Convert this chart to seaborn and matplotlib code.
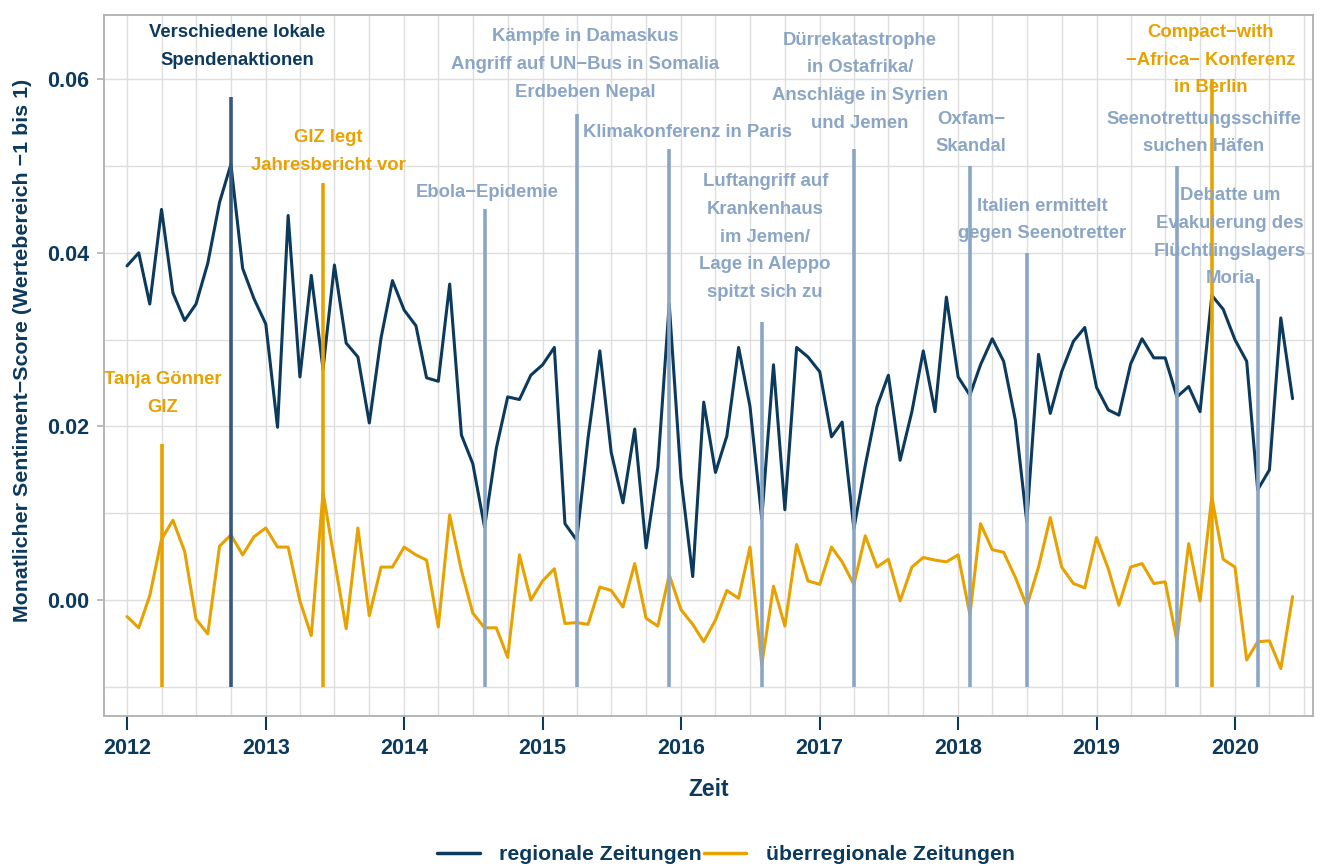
import numpy as np
import pandas as pd
import matplotlib
matplotlib.use("Agg")
import matplotlib.pyplot as plt
import matplotlib.dates as mdates
from matplotlib.ticker import MultipleLocator, FormatStrFormatter
from matplotlib.lines import Line2D
import seaborn as sns

# ---------------- data ----------------
start_month = "2012-01-01"
regional = [0.0385, 0.0400, 0.0341, 0.0450, 0.0354, 0.0322, 0.0341, 0.0388, 0.0458, 0.0502, 0.0382, 0.0347,
            0.0318, 0.0199, 0.0443, 0.0257, 0.0374, 0.0266, 0.0386, 0.0296, 0.0280, 0.0204, 0.0302, 0.0368,
            0.0334, 0.0316, 0.0256, 0.0252, 0.0364, 0.0190, 0.0157, 0.0084, 0.0175, 0.0234, 0.0231, 0.0259,
            0.0271, 0.0291, 0.0088, 0.0069, 0.0187, 0.0287, 0.0170, 0.0112, 0.0197, 0.0060, 0.0153, 0.0341,
            0.0141, 0.0027, 0.0228, 0.0147, 0.0189, 0.0291, 0.0223, 0.0094, 0.0271, 0.0104, 0.0291, 0.0280,
            0.0263, 0.0188, 0.0205, 0.0082, 0.0155, 0.0223, 0.0259, 0.0161, 0.0217, 0.0287, 0.0217, 0.0349,
            0.0257, 0.0236, 0.0271, 0.0301, 0.0275, 0.0207, 0.0090, 0.0283, 0.0215, 0.0263, 0.0298, 0.0314,
            0.0245, 0.0219, 0.0213, 0.0272, 0.0301, 0.0279, 0.0279, 0.0234, 0.0246, 0.0217, 0.0351, 0.0335,
            0.0300, 0.0275, 0.0127, 0.0150, 0.0325, 0.0232]
ueberregional = [-0.0019, -0.0032, 0.0005, 0.0070, 0.0092, 0.0056, -0.0022, -0.0039, 0.0062, 0.0075, 0.0052, 0.0073,
                 0.0083, 0.0061, 0.0061, -0.0001, -0.0041, 0.0124, 0.0046, -0.0033, 0.0083, -0.0018, 0.0038, 0.0038,
                 0.0061, 0.0052, 0.0046, -0.0031, 0.0098, 0.0034, -0.0015, -0.0032, -0.0032, -0.0066, 0.0052, 0.0000,
                 0.0022, 0.0036, -0.0027, -0.0026, -0.0028, 0.0015, 0.0011, -0.0008, 0.0042, -0.0021, -0.0030, 0.0029,
                 -0.0011, -0.0028, -0.0048, -0.0023, 0.0011, 0.0002, 0.0061, -0.0075, 0.0016, -0.0030, 0.0064, 0.0022,
                 0.0018, 0.0061, 0.0044, 0.0018, 0.0074, 0.0038, 0.0047, -0.0001, 0.0038, 0.0049, 0.0046, 0.0044,
                 0.0052, -0.0017, 0.0088, 0.0058, 0.0055, 0.0026, -0.0007, 0.0038, 0.0095, 0.0038, 0.0019, 0.0014,
                 0.0072, 0.0036, -0.0006, 0.0038, 0.0042, 0.0019, 0.0021, -0.0047, 0.0065, -0.0001, 0.0119, 0.0047,
                 0.0038, -0.0069, -0.0048, -0.0047, -0.0079, 0.0004]
series_names = ["regionale Zeitungen", "überregionale Zeitungen"]

event_dates = ["2012-04-01", "2012-10-01", "2013-06-01", "2014-08-01", "2015-04-01", "2015-12-01",
               "2016-08-01", "2017-04-01", "2018-02-01", "2018-07-01", "2019-08-01", "2019-11-01",
               "2020-03-01"]
event_tops = [0.018, 0.058, 0.048, 0.045, 0.056, 0.052, 0.032, 0.052, 0.050, 0.040, 0.050, 0.060, 0.037]
event_bottom = -0.01
event_group = ["ueber", "regional", "ueber", "beide", "beide", "beide", "beide", "beide", "beide",
               "beide", "beide", "ueber", "beide"]
event_labels = ["Tanja Gönner\nGIZ",
                "Verschiedene lokale\nSpendenaktionen",
                "GIZ legt\nJahresbericht vor",
                "Ebola\u2212Epidemie",
                "Kämpfe in Damaskus\nAngriff auf UN\u2212Bus in Somalia\nErdbeben Nepal",
                "Klimakonferenz in Paris",
                "Luftangriff auf\nKrankenhaus\nim Jemen/\nLage in Aleppo\nspitzt sich zu",
                "Dürrekatastrophe\nin Ostafrika/\nAnschläge in Syrien\nund Jemen",
                "Oxfam\u2212\nSkandal",
                "Italien ermittelt\ngegen Seenotretter",
                "Seenotrettungsschiffe\nsuchen Häfen",
                "Compact\u2212with\n\u2212Africa\u2212 Konferenz\nin Berlin",
                "Debatte um\nEvakuierung des\nFlüchtlingslagers\nMoria"]
# label anchor (decimal year, value) for each event label
label_x = [2012.26, 2012.794, 2013.451, 2014.60, 2015.307, 2016.05, 2016.607, 2017.292,
           2018.094, 2018.606, 2019.776, 2019.827, 2019.964]
label_y = [0.0238, 0.0638, 0.0517, 0.0469, 0.0617, 0.0539, 0.0418, 0.0597,
           0.0538, 0.0438, 0.0538, 0.0622, 0.0418]

# ---------------- style ----------------
NAVY = "#0c3a5d"
ORANGE = "#e8a200"
LIGHTBLUE = "#8ba5c5"
DARKV = "#35597c"
GRID = "#dedede"
group_colors = {"regional": DARKV, "ueber": ORANGE, "beide": LIGHTBLUE}
label_colors = {"regional": NAVY, "ueber": ORANGE, "beide": LIGHTBLUE}

sns.set_theme(style="white")
plt.rcParams["font.family"] = ["Liberation Sans", "DejaVu Sans"]
plt.rcParams["font.weight"] = "bold"

dates = pd.date_range(start_month, periods=len(regional), freq="MS")
df = pd.DataFrame({"Zeit": np.concatenate([dates, dates]),
                   "score": regional + ueberregional,
                   "Serie": [series_names[0]] * len(regional) + [series_names[1]] * len(ueberregional)})

fig = plt.figure(figsize=(13.27, 8.66), dpi=100)
ax = fig.add_axes([0.0784, 0.1732, 0.9111, 0.8095])

sns.lineplot(data=df, x="Zeit", y="score", hue="Serie",
             palette={series_names[0]: NAVY, series_names[1]: ORANGE},
             linewidth=2.2, ax=ax, legend=False, zorder=3)

ev = pd.to_datetime(event_dates)
for d, top, g in zip(ev, event_tops, event_group):
    ax.vlines(d, event_bottom, top, colors=group_colors[g], linewidth=2.6, zorder=4)


def dec_year_to_date(y):
    year = int(np.floor(y))
    frac = y - year
    start = pd.Timestamp(year=year, month=1, day=1)
    end = pd.Timestamp(year=year + 1, month=1, day=1)
    return start + (end - start) * frac


for lbl, lx, ly, g in zip(event_labels, label_x, label_y, event_group):
    ax.text(dec_year_to_date(lx), ly, lbl, ha="center", va="center", color=label_colors[g],
            fontsize=13.3, fontweight="bold", linespacing=1.82, zorder=5)

# axes
ax.set_xlim(dec_year_to_date(2011.834), dec_year_to_date(2020.563))
ax.set_ylim(-0.01336, 0.0674)
ax.xaxis.set_major_locator(mdates.YearLocator())
ax.xaxis.set_major_formatter(mdates.DateFormatter("%Y"))
ax.xaxis.set_minor_locator(mdates.MonthLocator(bymonth=[4, 7, 10]))
ax.yaxis.set_major_locator(MultipleLocator(0.02))
ax.yaxis.set_minor_locator(MultipleLocator(0.01))
ax.yaxis.set_major_formatter(FormatStrFormatter("%.2f"))
ax.grid(True, which="both", color=GRID, linewidth=1.0, zorder=0)
ax.set_axisbelow(True)
for s in ax.spines.values():
    s.set_color("#b0b0b0")
    s.set_linewidth(1.3)
ax.tick_params(axis="x", which="major", bottom=True, direction="out", length=10, width=1.5,
               color=NAVY, pad=5.5, labelsize=15.5, labelcolor=NAVY)
ax.tick_params(axis="y", which="major", left=True, direction="out", length=5, width=1.2,
               color="#b0b0b0", pad=6, labelsize=15.5, labelcolor=NAVY)
ax.tick_params(which="minor", length=0)
for t in ax.get_xticklabels() + ax.get_yticklabels():
    t.set_fontweight("bold")
ax.set_xlabel("Zeit", fontsize=16.5, fontweight="bold", color=NAVY, labelpad=14)
ax.set_ylabel("Monatlicher Sentiment\u2212Score (Wertebereich \u22121 bis 1)", fontsize=15.4,
              fontweight="bold", color=NAVY)
ax.yaxis.set_label_coords((32 - 104) / 1209, (716 - 350) / 701)

handles = [Line2D([], [], color=NAVY, linewidth=2.5), Line2D([], [], color=ORANGE, linewidth=2.5)]
leg = fig.legend(handles, series_names, loc="center", bbox_to_anchor=(726 / 1327, 1 - 855 / 866),
                 ncol=2, frameon=False, handlelength=2.0, columnspacing=0.1, handletextpad=0.9,
                 prop={"size": 15.3, "weight": "bold"})
for t in leg.get_texts():
    t.set_color(NAVY)

fig.savefig("out.png", dpi=100, facecolor="white")
